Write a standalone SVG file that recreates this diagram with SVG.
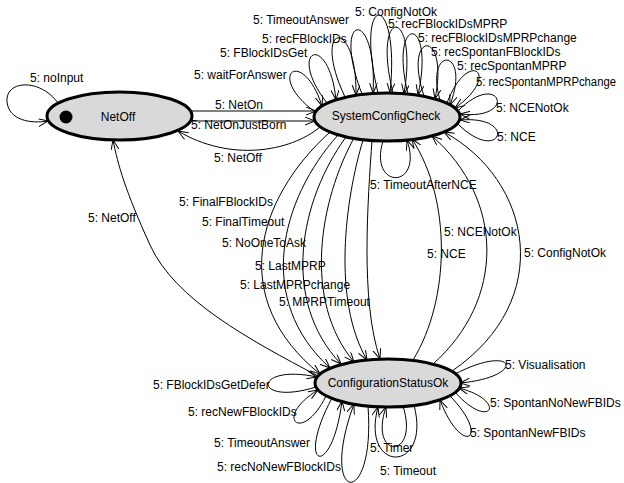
<svg xmlns="http://www.w3.org/2000/svg" width="624" height="483" viewBox="0 0 624 483">
<defs>
<marker id="arr" markerUnits="userSpaceOnUse" markerWidth="12" markerHeight="10" refX="10" refY="4" orient="auto">
<path d="M0,0 L10,4 L0,8" fill="none" stroke="#000" stroke-width="1"/>
</marker>
<style>
.e{fill:none;stroke:#000;stroke-width:1;marker-end:url(#arr)}
.l{font-family:"Liberation Sans",Arial,sans-serif;font-size:12px;fill:#000}
.n{fill:#d9d9d9;stroke:#000;stroke-width:3}
.t{font-family:"Liberation Sans",Arial,sans-serif;font-size:12px;fill:#000;text-anchor:middle}
</style>
</defs>
<rect width="624" height="483" fill="#fff"/>
<g id="connectors">
<path class="e" d="M58,103 C40,78 5,80 7,102 C9,120 30,124 48,121"/>
<text class="l" x="30" y="82">5: noInput</text>
<path class="e" d="M190,111 L316,111"/>
<text class="l" x="215" y="109">5: NetOn</text>
<path class="e" d="M190,121 L315,121"/>
<text class="l" x="191" y="129">5: NetOnJustBorn</text>
<path class="e" d="M320,127 C290,152 230,162 178,131"/>
<text class="l" x="214" y="162">5: NetOff</text>
<path class="e" d="M318,376 C250,340 175,300 150,245 C125,190 118,165 113,140"/>
<text class="l" x="88" y="222">5: NetOff</text>
<path class="e" d="M315,112 C264,74 303,46 322,106"/>
<text class="l" x="194" y="79">5: waitForAnswer</text>
<path class="e" d="M327,103 C285,49 329,30 336,100"/>
<text class="l" x="220" y="57">5: FBlockIDsGet</text>
<path class="e" d="M345,97 C310,23 357,14 356,95"/>
<text class="l" x="262" y="43">5: recFBlockIDs</text>
<path class="e" d="M362,94 C330,11 378,6 373,93"/>
<text class="l" x="253" y="24">5: TimeoutAnswer</text>
<path class="e" d="M378,93 C353,-11 401,-11 390,93"/>
<text class="l" x="355" y="16">5: ConfigNotOk</text>
<path class="e" d="M393,93 C371,5 419,5 404,94"/>
<text class="l" x="388" y="28">5: recFBlockIDsMPRP</text>
<path class="e" d="M408,94 C388,14 436,13 418,95"/>
<text class="l" x="418" y="42">5: recFBlockIDsMPRPchange</text>
<path class="e" d="M424,96 C402,30 450,27 435,99"/>
<text class="l" x="431" y="56">5: recSpontanFBlockIDs</text>
<path class="e" d="M440,100 C424,45 472,47 450,105"/>
<text class="l" x="457" y="70">5: recSpontanMPRP</text>
<path class="e" d="M447,103 C468,47 503,74 455,108"/>
<text class="l" x="476" y="86" textLength="140" lengthAdjust="spacingAndGlyphs">5: recSpontanMPRPchange</text>
<path class="e" d="M458,111 C500,68 519,121 460,114"/>
<text class="l" x="496" y="112">5: NCENotOk</text>
<path class="e" d="M457,123 C500,167 520,115 460,120"/>
<text class="l" x="497" y="141">5: NCE</text>
<path class="e" d="M383,141 C368,190 424,190 407,140"/>
<text class="l" x="370" y="189">5: TimeoutAfterNCE</text>
<path class="e" d="M330,132 C255,200 228,300 320,374"/>
<text class="l" x="179" y="206">5: FinalFBlockIDs</text>
<path class="e" d="M338,135 C280,200 255,300 330,368"/>
<text class="l" x="202" y="226">5: FinalTimeout</text>
<path class="e" d="M346,137 C300,200 280,300 341,364"/>
<text class="l" x="222" y="247">5: NoOneToAsk</text>
<path class="e" d="M354,138 C320,200 302,300 354,362"/>
<text class="l" x="255" y="270">5: LastMPRP</text>
<path class="e" d="M363,140 C345,200 332,300 367,360"/>
<text class="l" x="240" y="289">5: LastMPRPchange</text>
<path class="e" d="M372,140 C368,200 360,300 380,359"/>
<text class="l" x="279" y="306">5: MPRPTimeout</text>
<path class="e" d="M413,360 C450,300 452,200 412,139"/>
<text class="l" x="427" y="258">5: NCE</text>
<path class="e" d="M433,364 C505,300 505,200 432,136"/>
<text class="l" x="444" y="236">5: NCENotOk</text>
<path class="e" d="M452,371 C556,300 532,180 444,132"/>
<text class="l" x="524" y="257">5: ConfigNotOk</text>
<path class="e" d="M316,387 C252,407 252,363 317,377"/>
<text class="l" x="153" y="389">5: FBlockIDsGetDefer</text>
<path class="e" d="M326,396 C302,445 272,418 318,390"/>
<text class="l" x="188" y="416">5: recNewFBlockIDs</text>
<path class="e" d="M332,398 C294,469 332,481 342,401"/>
<text class="l" x="214" y="447">5: TimeoutAnswer</text>
<path class="e" d="M368,406 C376,512 317,504 354,404"/>
<text class="l" x="217" y="471">5: recNoNewFBlockIDs</text>
<path class="e" d="M403,406 C420,460 368,460 386,407"/>
<text class="l" x="370" y="452">5: Timer</text>
<path class="e" d="M414,405 C432,474 360,474 378,407"/>
<text class="l" x="380" y="475">5: Timeout</text>
<path class="e" d="M455,374 C517,342 527,377 460,383"/>
<text class="l" x="505" y="369">5: Visualisation</text>
<path class="e" d="M455,392 C490,432 509,401 459,388"/>
<text class="l" x="490" y="407">5: SpontanNoNewFBIDs</text>
<path class="e" d="M450,396 C492,439 462,458 440,400"/>
<text class="l" x="470" y="437">5: SpontanNewFBIDs</text>
</g>
<g id="NetOff">
<ellipse class="n" cx="119.5" cy="116" rx="72.5" ry="24"/>
<circle cx="66" cy="117" r="6.5" fill="#000"/>
<text class="t" x="118" y="121">NetOff</text>
</g>
<g id="SystemConfigCheck">
<ellipse class="n" cx="387" cy="117" rx="73" ry="24"/>
<text class="t" x="386" y="120">SystemConfigCheck</text>
</g>
<g id="ConfigurationStatusOk">
<ellipse class="n" cx="388" cy="383" rx="73" ry="24"/>
<text class="t" x="388" y="387">ConfigurationStatusOk</text>
</g>
</svg>
